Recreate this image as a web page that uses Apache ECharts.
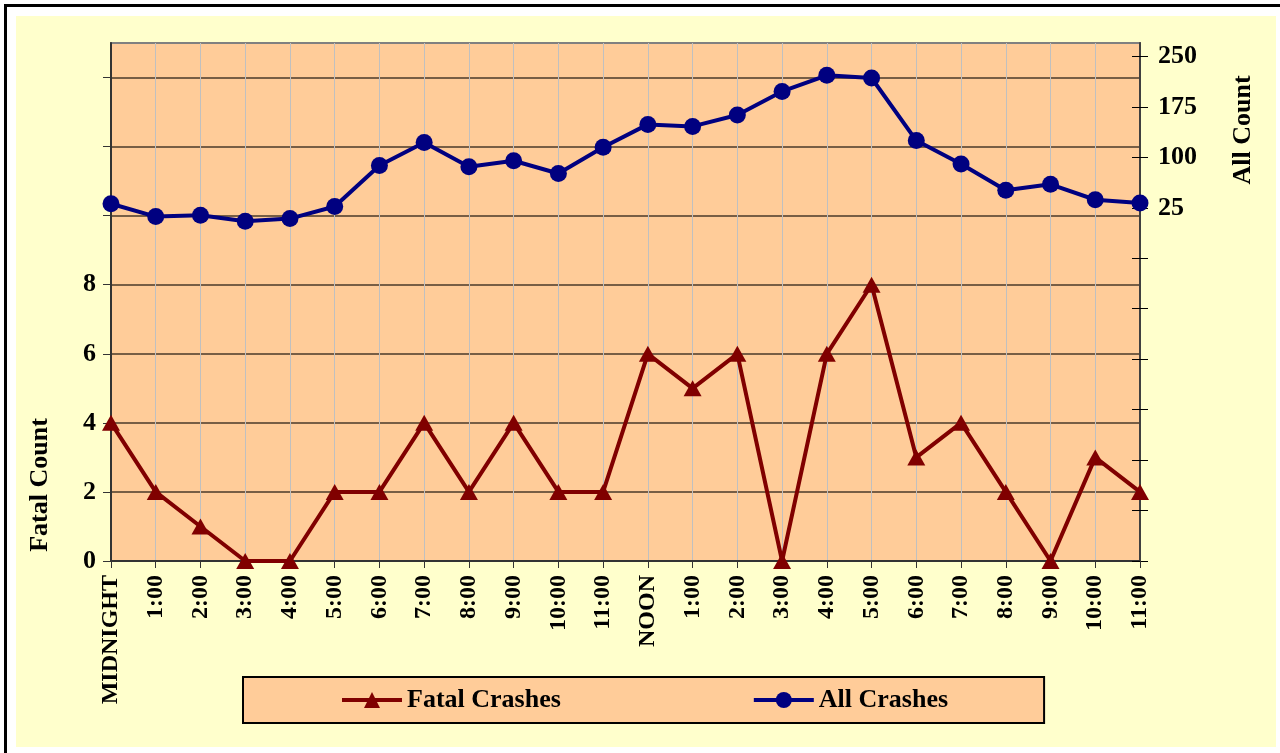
<!DOCTYPE html>
<html>
<head>
<meta charset="utf-8">
<script src="https://cdn.jsdelivr.net/npm/echarts@6/dist/echarts.min.js"></script>
<style>
  html, body { margin: 0; padding: 0; background: #ffffff; width: 1280px; height: 753px; overflow: hidden; }
  #frame { position: absolute; left: 4px; top: 4px; width: 1300px; height: 800px; border: 3px solid #000; box-sizing: border-box; }
  #panel { position: absolute; left: 16px; top: 16px; width: 1260px; height: 731px; background: #FFFFCC; }
  #chart { position: absolute; left: 0; top: 0; width: 1280px; height: 753px; }
</style>
</head>
<body>
<div id="frame"></div>
<div id="panel"></div>
<div id="chart"></div>
<script>
// Hour-of-day categories
const hours = ['MIDNIGHT', '1:00', '2:00', '3:00', '4:00', '5:00', '6:00', '7:00', '8:00', '9:00', '10:00', '11:00',
               'NOON', '1:00', '2:00', '3:00', '4:00', '5:00', '6:00', '7:00', '8:00', '9:00', '10:00', '11:00'];

// Fatal crashes per hour (left axis)
const fatalCrashes = [4, 2, 1, 0, 0, 2, 2, 4, 2, 4, 2, 2, 6, 5, 6, 0, 6, 8, 3, 4, 2, 0, 3, 2];

// All crashes per hour (right axis)
const allCrashes = [31, 12, 14, 5, 9, 27, 88, 122, 86, 95, 76, 115, 149, 146, 163, 198, 222, 218, 125, 90, 51, 60, 37, 32];

// Tick labels shown on each value axis
const fatalTickLabels = [0, 2, 4, 6, 8];
const allTickLabels = [25, 100, 175, 250];

// Tick positions along each value axis
const fatalTicks = [0, 2, 4, 6, 8, 10, 12, 14];
const allTicks = [-500, -425, -350, -275, -200, -125, -50, 25, 100, 175, 250];

const serif = '"Liberation Serif", "Times New Roman", serif';

const chart = echarts.init(document.getElementById('chart'), null, { renderer: 'canvas' });

chart.setOption({
  backgroundColor: 'transparent',
  animation: false,
  grid: {
    left: 111, right: 140, top: 43, bottom: 192,
    show: true,
    backgroundColor: '#FFCC99',
    borderColor: '#808080',
    borderWidth: 2
  },
  legend: {
    left: 243,
    top: 677,
    orient: 'horizontal',
    padding: [10, 96, 10, 97],
    itemGap: 191,
    itemWidth: 60,
    itemHeight: 20,
    backgroundColor: '#FFCC99',
    borderColor: '#000000',
    borderWidth: 2,
    borderRadius: 0,
    lineStyle: { width: 4 },
    textStyle: { fontFamily: serif, fontWeight: 'bold', fontSize: 26, color: '#000' },
    data: ['Fatal Crashes', 'All Crashes']
  },
  xAxis: {
    type: 'category',
    data: hours,
    boundaryGap: false,
    axisLine: { show: true, lineStyle: { color: '#333333', width: 2 } },
    axisTick: { show: true, length: 7, lineStyle: { color: '#333333', width: 1 } },
    axisLabel: {
      rotate: 90, margin: 14, interval: 0,
      fontFamily: serif, fontWeight: 'bold', fontSize: 24, color: '#000'
    },
    splitLine: { show: true, lineStyle: { color: '#C0C0C0', width: 1 } }
  },
  yAxis: [
    {
      type: 'value',
      position: 'left',
      min: 0, max: 15, interval: 2,
      axisLine: { show: true, lineStyle: { color: '#333333', width: 2 } },
      axisTick: { show: true, length: 8, customValues: fatalTicks, lineStyle: { color: '#333333', width: 1 } },
      axisLabel: {
        margin: 15,
        customValues: fatalTickLabels,
        fontFamily: serif, fontWeight: 'bold', fontSize: 26, color: '#000'
      },
      splitLine: { show: true, lineStyle: { color: '#4a3a2a', width: 1.5 } }
    },
    {
      type: 'value',
      position: 'right',
      min: -500, max: 270, interval: 75,
      axisLine: { show: true, lineStyle: { color: '#404040', width: 2 } },
      axisTick: { show: true, length: 8, customValues: allTicks, lineStyle: { color: '#000000', width: 1 } },
      axisLabel: {
        margin: 18,
        customValues: allTickLabels,
        fontFamily: serif, fontWeight: 'bold', fontSize: 26, color: '#000'
      },
      splitLine: { show: false }
    },
    {
      // inner half of the crossing ticks on the right axis
      type: 'value',
      position: 'right',
      min: -500, max: 270, interval: 75,
      axisLine: { show: false },
      axisTick: { show: true, inside: true, length: 8, customValues: allTicks, lineStyle: { color: '#000000', width: 1 } },
      axisLabel: { show: false },
      splitLine: { show: false }
    }
  ],
  graphic: [
    {
      type: 'text',
      x: 40, y: 485,
      rotation: Math.PI / 2,
      style: {
        text: 'Fatal Count',
        fontFamily: serif, fontWeight: 'bold', fontSize: 26, fill: '#000',
        align: 'center', verticalAlign: 'middle'
      }
    },
    {
      type: 'text',
      x: 1243, y: 130,
      rotation: Math.PI / 2,
      style: {
        text: 'All Count',
        fontFamily: serif, fontWeight: 'bold', fontSize: 26, fill: '#000',
        align: 'center', verticalAlign: 'middle'
      }
    }
  ],
  series: [
    {
      name: 'Fatal Crashes',
      type: 'line',
      yAxisIndex: 0,
      data: fatalCrashes,
      symbol: 'triangle',
      symbolSize: [18, 16],
      lineStyle: { color: '#800000', width: 4 },
      itemStyle: { color: '#800000' },
      z: 3
    },
    {
      name: 'All Crashes',
      type: 'line',
      yAxisIndex: 1,
      data: allCrashes,
      symbol: 'circle',
      symbolSize: 17,
      lineStyle: { color: '#000080', width: 4 },
      itemStyle: { color: '#000080' },
      z: 4
    }
  ]
});
</script>
</body>
</html>
